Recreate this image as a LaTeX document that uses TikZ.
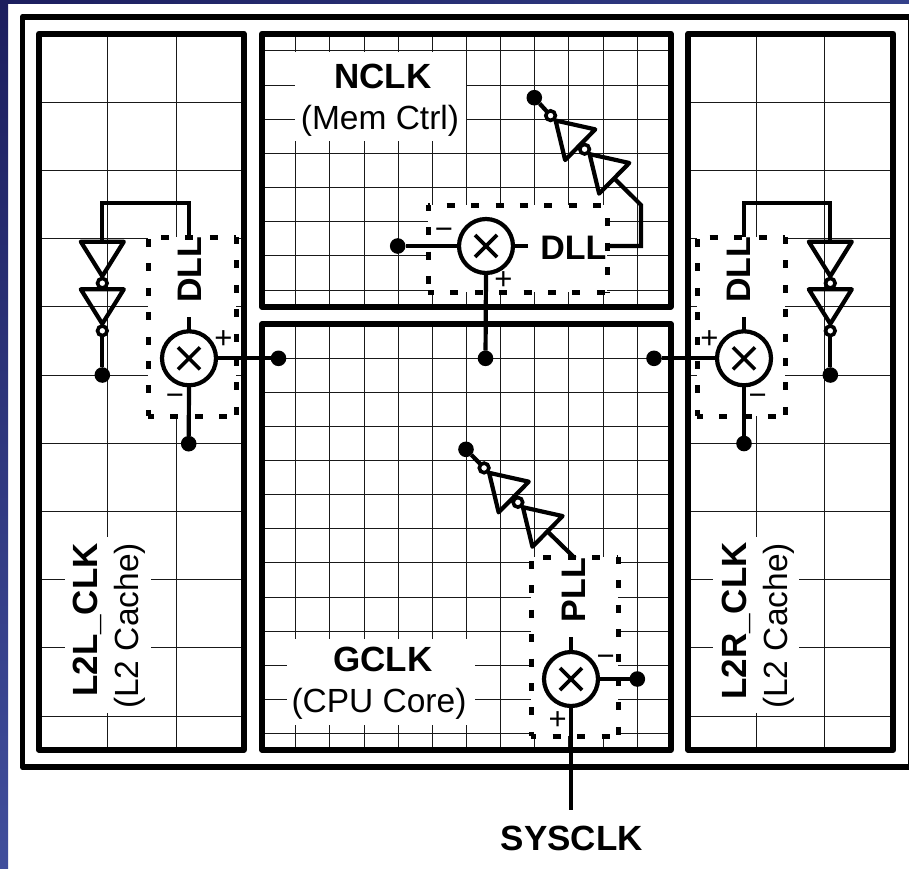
\documentclass[tikz,border=0pt]{standalone}
\usepackage{fontspec}
\setmainfont{Liberation Sans}
\usetikzlibrary{calc}
\definecolor{navyA}{HTML}{1C1E5E}
\definecolor{navyB}{HTML}{404E9C}
\definecolor{navyC}{HTML}{33408A}
\newcommand{\szA}{\fontsize{35}{35}\selectfont}
\newcommand{\szB}{\fontsize{33.5}{33.5}\selectfont}
\newcommand{\szC}{\fontsize{31}{31}\selectfont}
\tikzset{
  frameline/.style={draw=black,line width=5.8pt,line join=round},
  gridline/.style={draw=black!90,line width=1pt},
  wire/.style={draw=black,line width=4.2pt,line join=miter},
  gate/.style={draw=black,line width=4.2pt,line join=round,fill=none},
  bubble/.style={circle,draw=black,line width=3.6pt,fill=white,minimum size=9.6pt,inner sep=0pt,outer sep=0pt},
  blob/.style={circle,fill=black,minimum size=15.6pt,inner sep=0pt,outer sep=0pt},
  patch/.style={fill=white,draw=none},
  dashframe/.style={draw=black,line width=5pt,dash pattern=on 8pt off 16.4pt},
  mixer/.style={circle,draw=black,line width=4.2pt,fill=white,minimum size=54pt,inner sep=0pt,outer sep=0pt,
    path picture={\draw[line width=3.6pt] (path picture bounding box.center) +(-11,-11) -- +(11,11)
      (path picture bounding box.center) +(-11,11) -- +(11,-11);}},
  bold label/.style={font=\szA\bfseries,inner sep=0pt,anchor=base},
  plain label/.style={font=\szB,inner sep=0pt,anchor=base},
  sign/.style={font=\szC,inner sep=0pt}
}
% name, x, y of base centre, canvas angle of the apex direction
\newcommand{\invgate}[4]{%
  \begin{scope}[shift={(#2,#3)},rotate=#4]
    \draw[gate] (0,-21.5) -- (0,21.5) -- (34.5,0) -- cycle;
    \coordinate (#1-i) at (0,0);
    \node[bubble] (#1-o) at (41.5,0) {};
  \end{scope}}
% x1 y1 x2 y2, then the dash phases of the top, right, bottom and left sides
\newcommand{\fnbox}[8]{%
  \fill[white] (#1,#2) rectangle (#3,#4);
  \draw[dashframe,dash phase=#5] (#1,#2) -- (#3,#2);
  \draw[dashframe,dash phase=#6] (#3,#2) -- (#3,#4);
  \draw[dashframe,dash phase=#7] (#1,#4) -- (#3,#4);
  \draw[dashframe,dash phase=#8] (#1,#2) -- (#1,#4);}
\begin{document}
\begin{tikzpicture}[x=1pt,y=-1pt]
\useasboundingbox (0,0) rectangle (909,868);
\fill[white] (0,0) rectangle (909,868);
\shade[top color=navyA,bottom color=navyB] (0,0) rectangle (8,868);
\shade[left color=navyA,right color=navyC] (0,0) rectangle (909,3);
\begin{scope}
\clip (0,0) rectangle (909,868);
\draw[frameline] (22.5,17) rectangle (911,767);
\end{scope}
% grids
\foreach \gy in {102.3,170.5,238.7,306.9,375.1,443.3,511.5,579.7,647.9,716.1}{
  \draw[gridline] (39,\gy) -- (243.7,\gy);
  \draw[gridline] (688.3,\gy) -- (893.3,\gy);}
\foreach \gx in {107.3,176}{\draw[gridline] (\gx,33.7) -- (\gx,750);}
\foreach \gx in {756,824.3}{\draw[gridline] (\gx,33.7) -- (\gx,750);}
\foreach \gx in {295.7,329.8,364,398.1,432.2,466.3,500.5,534.7,568.8,603,637.2}{
  \draw[gridline] (\gx,33.7) -- (\gx,306.7);
  \draw[gridline] (\gx,324) -- (\gx,750);}
\foreach \gy in {50.3,85,119,153.3,187.4,221.7,255.8,290}{\draw[gridline] (262,\gy) -- (670.7,\gy);}
\foreach \gy in {358.3,392.4,426.5,460.6,494.7,528.8,562.9,597,631.1,665.2,699.3,733.4}{\draw[gridline] (262,\gy) -- (670.7,\gy);}
% label patches
\fill[patch] (295,52) rectangle (466,140.7);
\fill[patch] (286.7,639) rectangle (475,725);
\fill[patch] (65,536.7) rectangle (151,713.3);
\fill[patch] (712.7,536.7) rectangle (799,713.3);
% block frames
\draw[frameline] (39,33.7) rectangle (243.7,750);
\draw[frameline] (262,33.7) rectangle (670.7,306.7);
\draw[frameline] (262,324) rectangle (670.7,750);
\draw[frameline] (688.3,33.7) rectangle (893.3,750);
% dashed function boxes
\fnbox{148.3}{237.3}{236}{416}{11.7}{1.3}{2.3}{22.7}
\fnbox{697}{237.3}{785}{416}{11.7}{1.3}{2.3}{22.7}
\fnbox{428.3}{205}{607.3}{292.3}{6}{11.1}{2.3}{2.3}
\fnbox{531}{557.3}{618.3}{736}{12.1}{1.3}{2.7}{20.7}
% mixers
\node[mixer] (mL) at (189,358.3) {};
\node[mixer] (mR) at (744,358.3) {};
\node[mixer] (mN) at (486,246) {};
\node[mixer] (mG) at (571,679) {};
% dots
\node[blob] (dLa) at (102.3,375) {};
\node[blob] (dLb) at (188.7,443.7) {};
\node[blob] (dLc) at (278.5,358.3) {};
\node[blob] (dMid) at (485.5,358.3) {};
\node[blob] (dRc) at (654,358.3) {};
\node[blob] (dRb) at (744,443.5) {};
\node[blob] (dRa) at (830.3,375) {};
\node[blob] (dNa) at (397.7,246) {};
\node[blob] (dNb) at (534.3,97.7) {};
\node[blob] (dGa) at (466,449.3) {};
\node[blob] (dGb) at (637.3,679) {};
% free ends
\coordinate (sL) at (189,316.7);
\coordinate (sR) at (744,316.7);
\coordinate (sN) at (527.7,246);
\coordinate (sG) at (571,637.3);
\coordinate (topL) at (189,237.3);
\coordinate (topR) at (744,237.3);
\coordinate (rN) at (607.3,246);
\coordinate (topG) at (575,558.3);
\coordinate (sysEnd) at (571,810);
% wires
\draw[wire] (mL.north) -- (sL);
\draw[wire] (mR.north) -- (sR);
\draw[wire] (mN.east) -- (sN);
\draw[wire] (mG.north) -- (sG);
\draw[wire] (mL.east) -- (dLc);
\draw[wire] (mL.south) -- (dLb);
\draw[wire] (mR.west) -- (dRc);
\draw[wire] (mR.south) -- (dRb);
\draw[wire] (mN.west) -- (dNa);
\draw[wire] (mN.south) -- (dMid);
\draw[wire] (mG.east) -- (dGb);
\draw[wire] (mG.south) -- (sysEnd);
% inverters
\invgate{iLa}{102.3}{241.7}{-90}
\invgate{iLb}{102.3}{289.3}{-90}
\invgate{iRa}{830.3}{241.7}{-90}
\invgate{iRb}{830.3}{289.3}{-90}
\invgate{iNb}{614.2}{178.3}{135.5}
\invgate{iNa}{580.2}{144.7}{135.5}
\invgate{iGb}{547.5}{531.4}{135.5}
\invgate{iGa}{513.7}{497}{135.5}
\draw[wire] (iLb-o) -- (dLa);
\draw[wire] (iRb-o) -- (dRa);
\draw[wire] (iNa-o) -- (dNb);
\draw[wire] (iGa-o) -- (dGa);
\draw[wire] (iLa-i) -- (102.3,202.7) -- (189,202.7) -- (topL);
\draw[wire] (iRa-i) -- (830.3,202.7) -- (744,202.7) -- (topR);
\draw[wire] (rN) -- (641,246) -- (641,205) -- (iNb-i);
\draw[wire] (iGb-i) -- (topG);
% signs
\node[sign] (pL) at (223.3,340) {+};
\node[sign] (nL) at (175,400) {−};
\node[sign] (pR) at (709.3,340) {+};
\node[sign] (nR) at (757.7,400) {−};
\node[sign] (pN) at (503.3,280.7) {+};
\node[sign] (nN) at (444,233.3) {−};
\node[sign] (pG) at (557.7,720.7) {+};
\node[sign] (nG) at (605.7,660.7) {−};
% labels
\node[bold label] (tN) at (382.7,88) {NCLK};
\node[plain label] (tN2) at (380,129) {(Mem Ctrl)};
\node[bold label] (tG) at (382.7,671.7) {GCLK};
\node[plain label] (tG2) at (379,712.7) {(CPU Core)};
\node[bold label] (tS) at (571.7,850) {SYSCLK};
\node[bold label,rotate=90] (tL) at (97.7,620) {L2L\_CLK};
\node[plain label,rotate=90] (tL2) at (138.3,626) {(L2 Cache)};
\node[bold label,rotate=90] (tR) at (746,621) {L2R\_CLK};
\node[plain label,rotate=90] (tR2) at (787.3,626) {(L2 Cache)};
\node[bold label,font=\fontsize{34}{34}\selectfont\bfseries,rotate=90] (dl) at (201.7,269.5) {DLL};
\node[bold label,font=\fontsize{34}{34}\selectfont\bfseries,rotate=90] (dr) at (750.7,269.5) {DLL};
\node[bold label,font=\fontsize{34}{34}\selectfont\bfseries] (dn) at (573.3,259) {DLL};
\node[bold label,font=\fontsize{34}{34}\selectfont\bfseries,rotate=90] (pg) at (585,590) {PLL};
\end{tikzpicture}
\end{document}
